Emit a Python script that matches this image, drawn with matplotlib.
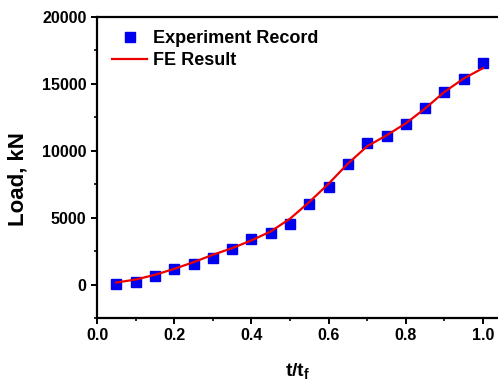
import matplotlib
matplotlib.use("Agg")
import matplotlib.pyplot as plt
from matplotlib.ticker import MultipleLocator

plt.rcParams['font.family'] = ['Liberation Sans', 'DejaVu Sans']
plt.rcParams['font.weight'] = 'bold'
plt.rcParams['mathtext.fontset'] = 'custom'
plt.rcParams['mathtext.bf'] = 'Liberation Sans:bold'
plt.rcParams['mathtext.rm'] = 'Liberation Sans:bold'

t_exp = [0.05, 0.10, 0.15, 0.20, 0.25, 0.30, 0.35, 0.40, 0.45, 0.50,
         0.55, 0.60, 0.65, 0.70, 0.75, 0.80, 0.85, 0.90, 0.95, 1.00]
load_exp = [50, 170, 675, 1175, 1550, 1970, 2670, 3370, 3870, 4545,
            5990, 7290, 8990, 10580, 11090, 11990, 13200, 14430, 15380, 16530]

t_fe = [0.05, 0.10, 0.15, 0.20, 0.25, 0.30, 0.35, 0.40, 0.45, 0.50,
        0.55, 0.60, 0.65, 0.70, 0.75, 0.80, 0.85, 0.90, 0.95, 1.00]
load_fe = [150, 375, 725, 1175, 1670, 2225, 2720, 3300, 3970, 4920,
           6170, 7540, 9040, 10340, 11150, 12050, 13160, 14400, 15400, 16180]

xticks = [0.0, 0.2, 0.4, 0.6, 0.8, 1.0]
yticks = [0, 5000, 10000, 15000, 20000]

fig = plt.figure(figsize=(4.98, 3.85), dpi=100)
ax = fig.add_axes([97/498, 67/385, 1 - 97/498, (318-17)/385])

ax.plot(t_exp, load_exp, linestyle='none', marker='s', ms=7, color='#0000ee',
        markeredgecolor='#0000ee', label='Experiment Record', zorder=2)
ax.plot(t_fe, load_fe, color='#ee0000', lw=1.6, label='FE Result', zorder=3)

ax.set_xlim(0, (498-97)/386)
ax.set_ylim(-2500, 20000)
ax.set_xticks(xticks)
ax.set_xticklabels([f"{v:.1f}" for v in xticks])
ax.set_yticks(yticks)
ax.set_yticklabels([str(v) for v in yticks])
ax.xaxis.set_minor_locator(MultipleLocator(0.1))
ax.yaxis.set_minor_locator(MultipleLocator(2500))

for s in ['left', 'bottom', 'top']:
    ax.spines[s].set_linewidth(1.6)
ax.spines['right'].set_visible(False)

ax.tick_params(which='major', direction='out', length=4.5, width=1.4,
               labelsize=11.5, top=False, right=False, pad=3)
ax.tick_params(which='minor', direction='out', length=2.5, width=1.2,
               top=False, right=False)

ax.set_xlabel(r'$\mathbf{t/t_f}$', fontsize=14, fontweight='bold', labelpad=13)
ax.set_ylabel('Load, kN', fontsize=16, fontweight='bold')
ax.yaxis.set_label_coords(-0.171, 0.46)

leg = ax.legend(loc='upper left', frameon=False,
                prop={'weight': 'bold', 'size': 13},
                handlelength=1.95, handletextpad=0.3, labelspacing=0.3,
                borderaxespad=0.0, borderpad=0.0,
                bbox_to_anchor=(15/401, 1 - 13/301))

fig.savefig('out.png', dpi=100)
